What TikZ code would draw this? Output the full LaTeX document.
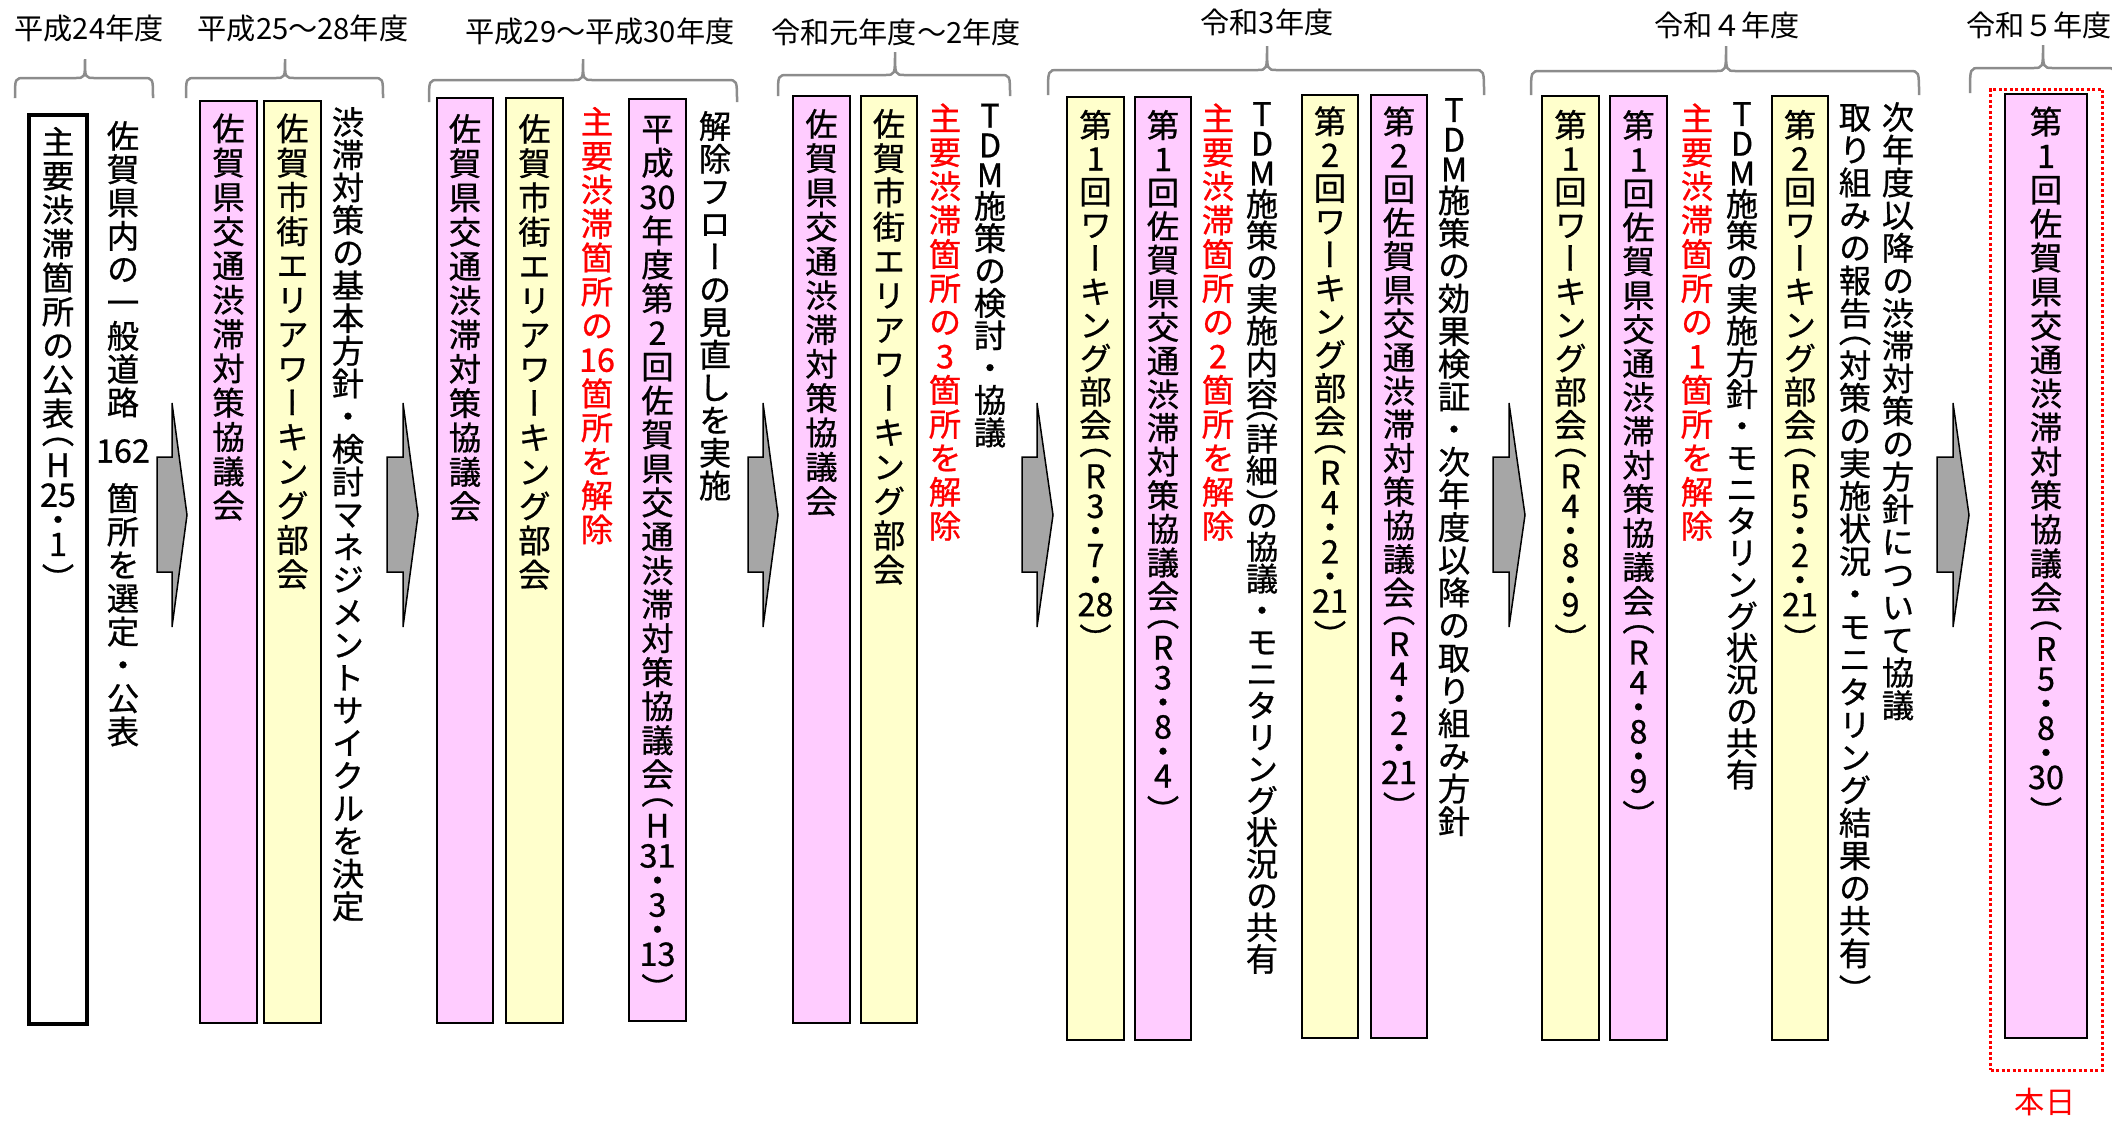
\documentclass[tikz,border=0pt]{standalone}
\usepackage{fontspec}
\setmainfont{Noto Sans CJK JP}
\newfontfamily\vfont[RawFeature=+vert,FakeBold=0.8]{Noto Sans CJK JP}
\definecolor{pinkF}{HTML}{FFCCFF}
\definecolor{yelF}{HTML}{FFFFCC}
\definecolor{arrowG}{HTML}{A6A6A6}
\definecolor{braceG}{HTML}{8C8C8C}
% one vertical cell: slot height, baseline height above slot bottom, content
\newcommand\VCk[3]{\hbox to 1.3em{\hss\vbox to #1{\vss\hbox{\smash{#3}}\kern#2\relax}\hss}}
\newcommand\VC[2][1em]{\VCk{#1}{\dimexpr#1/2-.37em\relax}{#2}}
\newcommand\vS{\def\vtslot{.92em}}
\newcommand\vN{\def\vtslot{\vtpitch}}
\newcommand\vPLd{\VCk{.6em}{.2em}{（}}
\newcommand\vPRd{\VCk{.5em}{-.5em}{）}}
\newcommand\vPLt{\VCk{.4em}{.16em}{（}}
\newcommand\vPRt{\VCk{.4em}{-.53em}{）}}
\newcommand\vMD{\VCk{.6em}{-.08em}{・}}
\newcommand\vGP{\kern.45em\relax}
\ExplSyntaxOn
\NewDocumentCommand \VT { O{1em} m }
  {
    \vbox
      {
        \offinterlineskip
        \def \vtpitch {#1}
        \def \vtslot {#1}
        \tl_map_inline:nn {#2}
          {
            \tl_if_single_token:nTF {##1}
              { \token_if_cs:NTF ##1 { ##1 } { \VC [\vtslot] {##1} } }
              { \VC [\vtslot] {##1} }
          }
      }
  }
\ExplSyntaxOff
\newcommand\blockarrow[3]{\draw[barrow] (#1,457) -- (#2,457) -- (#2,403) -- (#3,515) -- (#2,627) -- (#2,572) -- (#1,572) -- cycle;}
\newcommand\bracepath[6]{\draw[brc] (#1,#5) .. controls (#1,#4) .. (#1+10,#4) -- (#3-10,#4) .. controls (#3,#4) .. (#3,#6) .. controls (#3,#4) .. (#3+10,#4) -- (#2-10,#4) .. controls (#2,#4) .. (#2,#5);}
\begin{document}
\begin{tikzpicture}[x=0.01cm,y=-0.01cm,
  vt/.style={anchor=north, inner sep=0, outer sep=0, font=\vfont\fontsize{9.2}{9.2}\selectfont},
  lab/.style={inner sep=0, font=\fontsize{8.3}{9}\selectfont},
  pbox/.style={draw=black, line width=0.02cm, fill=pinkF, anchor=north west, inner sep=0, outer sep=0},
  ybox/.style={pbox, fill=yelF},
  wbox/.style={pbox, fill=white, line width=0.04cm},
  brc/.style={draw=braceG, line width=0.025cm},
  barrow/.style={draw=black, line width=0.015cm, fill=arrowG, line join=miter},
  dotbox/.style={draw=red, line width=0.03cm, dash pattern=on 0.03cm off 0.025cm, anchor=north west, inner sep=0},
]
\useasboundingbox (0,0) rectangle (2112,1120);
\begin{scope}
\clip (0,0) rectangle (2112,1120);
% period labels
\node[lab] (lab1) at (89,28) {平成24年度};
\node[lab] (lab2) at (303,28) {平成25～28年度};
\node[lab] (lab3) at (600,31) {平成29～平成30年度};
\node[lab] (lab4) at (896,32) {令和元年度～2年度};
\node[lab] (lab5) at (1267,22) {令和3年度};
\node[lab] (lab6) at (1727,25) {令和４年度};
\node[lab] (lab7) at (2039,25) {令和５年度};
% braces
\bracepath{15}{153}{85}{78}{98}{59}
\bracepath{186}{383}{285}{78}{98}{59}
\bracepath{429}{737}{583}{80}{102}{59}
\bracepath{778}{1010}{895}{75}{96}{52}
\bracepath{1048}{1484}{1267}{70}{95}{46}
\bracepath{1531}{1919}{1726}{71}{95}{46}
\bracepath{1970}{2116}{2043}{68}{93}{45}
% arrows
\blockarrow{157}{172}{187}
\blockarrow{387}{403}{418}
\blockarrow{748}{763}{778}
\blockarrow{1022}{1037}{1053}
\blockarrow{1493}{1509}{1525}
\blockarrow{1937}{1953}{1969}
% H24
\node[wbox, minimum width=0.58cm, minimum height=9.08cm] (b1) at (29,115) {};
\node[vt] (b1t) at (58,125) {\VT[1.05em]{主要渋滞箇所の公表\vPLd\vS H{25}\vMD1\vPRd}};
\node[vt] (t2) at (123,119.5) {\VT[1.03em]{佐賀県内の一般道路\vGP{162}\vGP 箇所を選定・公表}};
% H25-28
\node[pbox, minimum width=0.57cm, minimum height=9.21cm] (p1) at (200,101) {};
\node[vt] (p1t) at (228.5,111.5) {\VT[1.06em]{佐賀県交通渋滞対策協議会}};
\node[ybox, minimum width=0.57cm, minimum height=9.21cm] (y1) at (264,101) {};
\node[vt] (y1t) at (292.5,111.5) {\VT[1.06em]{佐賀市街エリアワーキング部会}};
\node[vt] (t3) at (348,106) {\VT[1.01em]{渋滞対策の基本方針・検討マネジメントサイクルを決定}};
% H29-30
\node[pbox, minimum width=0.56cm, minimum height=9.245cm] (p2) at (437,97.5) {};
\node[vt] (p2t) at (465,112) {\VT[1.06em]{佐賀県交通渋滞対策協議会}};
\node[ybox, minimum width=0.57cm, minimum height=9.245cm] (y2) at (506,97.5) {};
\node[vt] (y2t) at (534.5,112) {\VT[1.06em]{佐賀市街エリアワーキング部会}};
\node[vt, text=red] (r2) at (597,105) {\VT[1.05em]{主要渋滞箇所の{16}箇所を解除}};
\node[pbox, minimum width=0.57cm, minimum height=9.21cm] (p3) at (629,99) {};
\node[vt] (p3t) at (657.5,112) {\VT[1.05em]{平成{30}年度第2回佐賀県交通渋滞対策協議会\vPLd\vS H{31}\vMD3\vMD{13}\vPRd}};
\node[vt] (t4) at (715,110) {\VT[1.01em]{解除フローの見直しを実施}};
% R1-2
\node[pbox, minimum width=0.57cm, minimum height=9.26cm] (p4) at (793,96) {};
\node[vt] (p4t) at (821.5,107) {\VT[1.06em]{佐賀県交通渋滞対策協議会}};
\node[ybox, minimum width=0.56cm, minimum height=9.26cm] (y4) at (861,96) {};
\node[vt] (y4t) at (889,107) {\VT[1.06em]{佐賀市街エリアワーキング部会}};
\node[vt, text=red] (r4) at (945,101.5) {\VT[1.05em]{主要渋滞箇所の3箇所を解除}};
\node[vt] (t5) at (990,100.7) {\VT[1em]{\vS TDM\vN 施策の検討・協議}};
% R3
\node[ybox, minimum width=0.57cm, minimum height=9.42cm] (y5a) at (1067,97) {};
\node[vt] (y5at) at (1095.5,108.6) {\VT[1.03em]{第1回ワーキング部会\vPLd\vS R3\vMD7\vMD{28}\vPRd}};
\node[pbox, minimum width=0.56cm, minimum height=9.42cm] (p5a) at (1135,97) {};
\node[vt] (p5at) at (1163,108.6) {\VT[1.04em]{第1回佐賀県交通渋滞対策協議会\vPLd\vS R3\vMD8\vMD4\vPRd}};
\node[vt, text=red] (r5) at (1218,101.5) {\VT[1.05em]{主要渋滞箇所の2箇所を解除}};
\node[vt] (t5b) at (1262,99) {\VT[.98em]{\vS TDM\vN 施策の実施内容\vPLt 詳細\vPRt の協議・モニタリング状況の共有}};
\node[ybox, minimum width=0.56cm, minimum height=9.42cm] (y5b) at (1302,95) {};
\node[vt] (y5bt) at (1330,105) {\VT[1.03em]{第2回ワーキング部会\vPLd\vS R4\vMD2\vMD{21}\vPRd}};
\node[pbox, minimum width=0.56cm, minimum height=9.42cm] (p5b) at (1371,95) {};
\node[vt] (p5bt) at (1399,105) {\VT[1.04em]{第2回佐賀県交通渋滞対策協議会\vPLd\vS R4\vMD2\vMD{21}\vPRd}};
\node[vt] (t5c) at (1454,95) {\VT[1.01em]{\vS TDM\vN 施策の効果検証・次年度以降の取り組み方針}};
% R4
\node[ybox, minimum width=0.57cm, minimum height=9.43cm] (y6a) at (1542,96) {};
\node[vt] (y6at) at (1570.5,108.6) {\VT[1.03em]{第1回ワーキング部会\vPLd\vS R4\vMD8\vMD9\vPRd}};
\node[pbox, minimum width=0.57cm, minimum height=9.43cm] (p6a) at (1610,96) {};
\node[vt] (p6at) at (1638.5,108.6) {\VT[1.05em]{第1回佐賀県交通渋滞対策協議会\vPLd\vS R4\vMD8\vMD9\vPRd}};
\node[vt, text=red] (r6) at (1697,101.5) {\VT[1.05em]{主要渋滞箇所の1箇所を解除}};
\node[vt] (t6b) at (1742,99) {\VT[.98em]{\vS TDM\vN 施策の実施方針・モニタリング状況の共有}};
\node[ybox, minimum width=0.56cm, minimum height=9.43cm] (y6b) at (1772,96) {};
\node[vt] (y6bt) at (1800,108.6) {\VT[1.03em]{第2回ワーキング部会\vPLd\vS R5\vMD2\vMD{21}\vPRd}};
\node[vt] (t6c) at (1855,101) {\VT[1.01em]{取り組みの報告\vPLd 対策の実施状況・モニタリング結果の共有\vPRd}};
\node[vt] (t6d) at (1898,101) {\VT[1.01em]{次年度以降の渋滞対策の方針について協議}};
% R5
\node[dotbox, minimum width=1.12cm, minimum height=9.805cm] (today) at (1989,87.5) {};
\node[pbox, minimum width=0.82cm, minimum height=9.43cm] (p7) at (2005,94) {};
\node[vt] (p7t) at (2046,105) {\VT[1.05em]{第1回佐賀県交通渋滞対策協議会\vPLd\vS R5\vMD8\vMD{30}\vPRd}};
\node[lab, text=red, font=\fontsize{8.6}{9}\selectfont] (honjitsu) at (2045,1102) {本日};
\end{scope}
\end{tikzpicture}
\end{document}
